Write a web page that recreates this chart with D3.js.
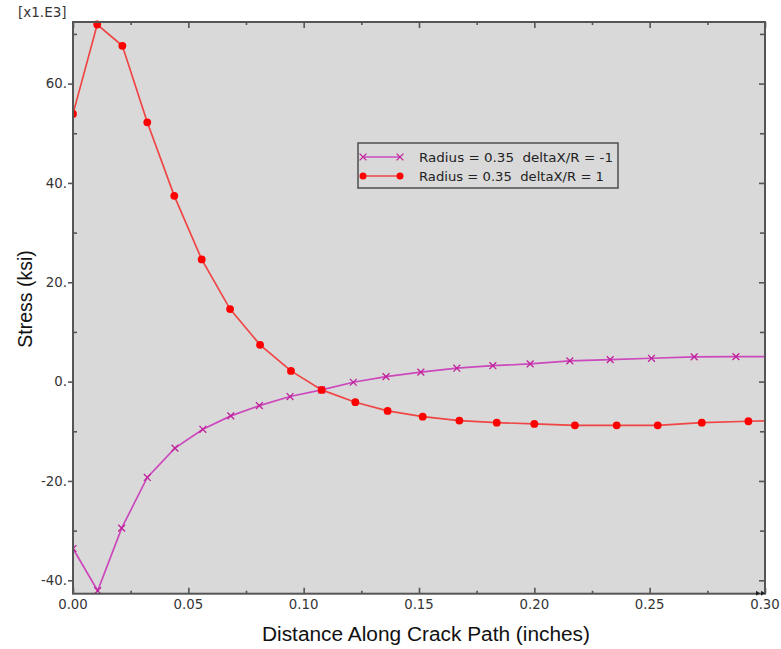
<!DOCTYPE html>
<html>
<head>
<meta charset="utf-8">
<script src="https://cdn.jsdelivr.net/npm/d3@7"></script>
<style>
  html, body { margin: 0; padding: 0; background: #ffffff; }
  svg { display: block; }
  text { white-space: pre; }
</style>
</head>
<body>
<script>
// Distance along crack path (inches) for each stress sample
const xNeg = [0, 0.0107, 0.0211, 0.0322, 0.0442, 0.0563, 0.0684, 0.0808, 0.0941, 0.1078, 0.1215,
              0.1357, 0.1508, 0.1664, 0.1820, 0.1982, 0.2154, 0.2329, 0.2508, 0.2693, 0.2874, 0.30];
const xPos = [0, 0.0105, 0.0214, 0.0322, 0.0439, 0.0558, 0.0681, 0.0811, 0.0945, 0.1078, 0.1224,
              0.1364, 0.1516, 0.1675, 0.1837, 0.2000, 0.2176, 0.2357, 0.2535, 0.2726, 0.2928, 0.30];

// Stress values in ksi (axis shown in units of x1.E3)
const stressNeg = [-33.6, -42.1, -29.5, -19.3, -13.4, -9.6, -6.9, -4.83, -3.0, -1.67, -0.13,
                   1.0, 1.9, 2.7, 3.2, 3.56, 4.17, 4.43, 4.7, 4.97, 5.04, 5.04];
const stressPos = [53.9, 71.9, 67.6, 52.2, 37.4, 24.6, 14.6, 7.4, 2.15, -1.67, -4.15,
                   -5.9, -7.05, -7.85, -8.26, -8.52, -8.8, -8.8, -8.8, -8.26, -7.98, -7.9];

const seriesNames = ["Radius = 0.35  deltaX/R = -1", "Radius = 0.35  deltaX/R = 1"];

const xTickValues = [0, 0.05, 0.10, 0.15, 0.20, 0.25, 0.30];
const xTickLabels = ["0.00", "0.05", "0.10", "0.15", "0.20", "0.25", "0.30"];
const yTickValues = [-40, -20, 0, 20, 40, 60];
const yTickLabels = ["-40.", "-20.", "0.", "20.", "40.", "60."];

const xDomain = [0, 0.30];
const yDomain = [-42.7, 72.4];

const W = 781, H = 649;
const margin = { left: 73, right: 16, top: 22, bottom: 55.3 };
const pw = W - margin.left - margin.right;
const ph = H - margin.top - margin.bottom;

const svg = d3.select("body").append("svg").attr("width", W).attr("height", H);

const x = d3.scaleLinear().domain(xDomain).range([margin.left, margin.left + pw]);
const y = d3.scaleLinear().domain(yDomain).range([margin.top + ph, margin.top]);

const frameColor = "#555555";
const labelColor = "#353535";
const tickFont = "DejaVu Sans, Verdana, sans-serif";

// plot area background
svg.append("rect")
  .attr("x", x(xDomain[0])).attr("y", y(yDomain[1]))
  .attr("width", pw).attr("height", ph)
  .attr("fill", "#d9d9d9");

svg.append("defs").append("clipPath").attr("id", "plotClip")
  .append("rect")
  .attr("x", margin.left).attr("y", margin.top - 4)
  .attr("width", pw).attr("height", ph + 8);

// ticks: major and minor on all four sides
const xMinor = d3.range(0, 0.3001, 0.025).filter(v => Math.abs((v / 0.05) - Math.round(v / 0.05)) > 1e-6);
const yMinor = d3.range(-40, 72, 10).filter(v => v % 20 !== 0);

const axB = d3.axisBottom(x).tickValues(xTickValues).tickSize(-6).tickFormat("");
const axBm = d3.axisBottom(x).tickValues(xMinor).tickSize(-3).tickFormat("");
const axT = d3.axisTop(x).tickValues(xTickValues).tickSize(-6).tickFormat("");
const axTm = d3.axisTop(x).tickValues(xMinor).tickSize(-3).tickFormat("");
const axL = d3.axisLeft(y).tickValues(yTickValues).tickSize(5).tickFormat("");
const axLm = d3.axisLeft(y).tickValues(yMinor).tickSize(-4).tickFormat("");
const axR = d3.axisRight(y).tickValues(yTickValues).tickSize(-6).tickFormat("");
const axRm = d3.axisRight(y).tickValues(yMinor).tickSize(-5).tickFormat("");

function addAxis(ax, tx, ty) {
  const g = svg.append("g").attr("transform", `translate(${tx},${ty})`).call(ax);
  g.select(".domain").remove();
  g.selectAll(".tick line").attr("stroke", frameColor).attr("stroke-width", 1.6);
  return g;
}
addAxis(axB, 0, margin.top + ph);
addAxis(axBm, 0, margin.top + ph);
addAxis(axT, 0, margin.top);
addAxis(axTm, 0, margin.top);
addAxis(axL, margin.left, 0);
addAxis(axLm, margin.left, 0);
addAxis(axR, margin.left + pw, 0);
addAxis(axRm, margin.left + pw, 0);

// tick labels
svg.append("g").selectAll("text").data(xTickValues).join("text")
  .attr("x", d => x(d)).attr("y", margin.top + ph + 15.5)
  .attr("text-anchor", "middle")
  .attr("font-family", tickFont).attr("font-size", 13.3)
  .attr("fill", labelColor)
  .text((d, i) => xTickLabels[i]);

svg.append("g").selectAll("text").data(yTickValues).join("text")
  .attr("x", margin.left - 6).attr("y", d => y(d) + 4.8)
  .attr("text-anchor", "end")
  .attr("font-family", tickFont).attr("font-size", 13.3)
  .attr("fill", labelColor)
  .text((d, i) => yTickLabels[i]);

svg.append("text")
  .attr("x", 18).attr("y", 17)
  .attr("font-family", tickFont).attr("font-size", 13.5)
  .attr("fill", labelColor)
  .text("[x1.E3]");

// series lines and symbols
const negData = xNeg.map((d, i) => ({ x: d, v: stressNeg[i] }));
const posData = xPos.map((d, i) => ({ x: d, v: stressPos[i] }));

const line = d3.line().x(d => x(d.x)).y(d => y(d.v));
const plot = svg.append("g").attr("clip-path", "url(#plotClip)");

const negColor = "#cc48bc", negMark = "#c0209a";
const posColor = "#f04545", posMark = "#ff0000";

plot.append("path").datum(negData).attr("d", line)
  .attr("fill", "none").attr("stroke", negColor).attr("stroke-width", 1.7);
plot.append("path").datum(posData).attr("d", line)
  .attr("fill", "none").attr("stroke", posColor).attr("stroke-width", 1.7);

const cross = d3.symbol().type(d3.symbolX).size(32);
const inside = d => d.x < xDomain[1];

plot.append("g").selectAll("path").data(negData.filter(inside)).join("path")
  .attr("transform", d => `translate(${x(d.x)},${y(d.v)})`)
  .attr("d", cross)
  .attr("fill", "none").attr("stroke", negMark).attr("stroke-width", 1.3);

plot.append("g").selectAll("circle").data(posData.filter(inside)).join("circle")
  .attr("cx", d => x(d.x)).attr("cy", d => y(d.v)).attr("r", 3.9)
  .attr("fill", posMark);

// frame
svg.append("rect")
  .attr("x", margin.left).attr("y", margin.top)
  .attr("width", pw).attr("height", ph)
  .attr("fill", "none").attr("stroke", frameColor).attr("stroke-width", 2);

// small end-of-axis markers at the lower right corner
const cx0 = margin.left + pw, cy0 = margin.top + ph;
svg.append("path")
  .attr("d", `M${cx0 - 9},${cy0 - 3} l4,2.5 l-4,2.5 Z M${cx0 - 4},${cy0 - 3} l4,2.5 l-4,2.5 Z`)
  .attr("fill", "#222");

// legend
const lg = svg.append("g").attr("transform", "translate(358,143)");
lg.append("rect").attr("width", 260).attr("height", 45)
  .attr("fill", "#d9d9d9").attr("stroke", frameColor).attr("stroke-width", 1.6);

const legendRows = [
  { name: seriesNames[0], color: negColor, mark: negMark, kind: "x", len: 194 },
  { name: seriesNames[1], color: posColor, mark: posMark, kind: "o", len: 185 }
];
legendRows.forEach((r, i) => {
  const ry = 14 + i * 19;
  lg.append("line").attr("x1", 5).attr("x2", 42).attr("y1", ry).attr("y2", ry)
    .attr("stroke", r.color).attr("stroke-width", 1.7);
  [5, 42].forEach(px => {
    if (r.kind === "x") {
      lg.append("path").attr("transform", `translate(${px},${ry})`).attr("d", cross)
        .attr("fill", "none").attr("stroke", r.mark).attr("stroke-width", 1.3);
    } else {
      lg.append("circle").attr("cx", px).attr("cy", ry).attr("r", 3.5).attr("fill", r.mark);
    }
  });
  lg.append("text").attr("x", 61).attr("y", ry + 4.5)
    .attr("font-family", tickFont).attr("font-size", 13)
    .attr("textLength", r.len).attr("lengthAdjust", "spacingAndGlyphs")
    .attr("fill", "#222")
    .text(r.name);
});

// axis titles
svg.append("text")
  .attr("transform", "translate(32,299) rotate(-90)")
  .attr("text-anchor", "middle")
  .attr("font-family", "Liberation Sans, Arial, sans-serif").attr("font-size", 19.5)
  .attr("fill", "#111")
  .text("Stress (ksi)");

svg.append("text")
  .attr("x", 426).attr("y", 641)
  .attr("text-anchor", "middle")
  .attr("font-family", "Liberation Sans, Arial, sans-serif").attr("font-size", 19.5)
  .attr("textLength", 328).attr("lengthAdjust", "spacingAndGlyphs")
  .attr("fill", "#111")
  .text("Distance Along Crack Path (inches)");
</script>
</body>
</html>
